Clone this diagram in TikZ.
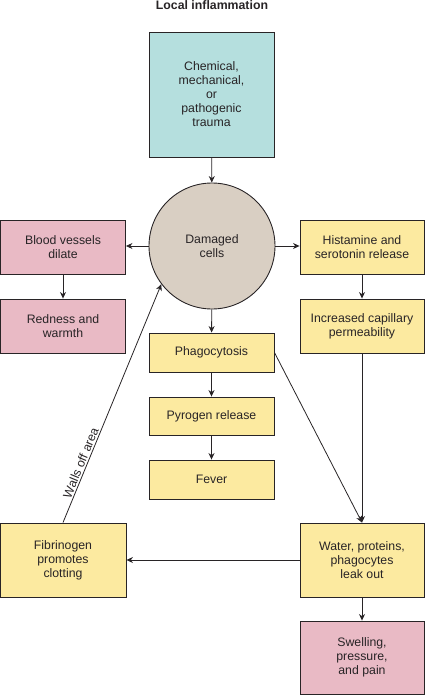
\documentclass[tikz,border=0pt]{standalone}
\usepackage{fontspec}
\setmainfont{Liberation Sans}
\usetikzlibrary{arrows.meta}

\definecolor{azul}{RGB}{181,223,222}
\definecolor{celula}{RGB}{217,207,195}
\definecolor{rosado}{RGB}{233,186,197}
\definecolor{amarillo}{RGB}{252,234,160}
\definecolor{tinta}{RGB}{40,36,38}

\begin{document}
\begin{tikzpicture}[x=1pt, y=-1pt,
    caja/.style    = {rectangle, draw=tinta, line width=0.9pt,
                      minimum width=125pt, align=center, inner sep=2pt,
                      font=\fontsize{12.3}{14}\selectfont, text=tinta},
    cajaazul/.style= {caja, fill=azul},
    cajarosa/.style= {caja, fill=rosado},
    cajaama/.style = {caja, fill=amarillo},
    celda/.style   = {circle, draw=tinta, line width=0.9pt, fill=celula,
                      minimum size=126pt, align=center, inner sep=0pt,
                      font=\fontsize{12.3}{14}\selectfont, text=tinta},
    titulo/.style  = {font=\fontsize{12.3}{14}\selectfont\bfseries,
                      text=tinta, inner sep=0pt},
    nombre/.style  = {font=\fontsize{12.3}{14}\selectfont, text=tinta,
                      inner sep=1.5pt},
    flecha/.style  = {-{Stealth[length=6.5pt,width=6pt]}, draw=tinta,
                      line width=0.8pt},
  ]
  \useasboundingbox (0,0) rectangle (425,695);

  %-------------------------------------------------- titulo y origen
  \node[titulo] (T) at (212,5) {Local inflammation};
  \node[cajaazul, minimum height=125pt] (trauma) at (211.5,94.5)
    {Chemical,\\mechanical,\\or\\pathogenic\\trauma};
  \node[celda] (cells) at (212,246) {Damaged\\cells};

  %-------------------------------------------------- rama izquierda
  \node[cajarosa, minimum height=54pt] (blood) at (63,247)
    {Blood vessels\\dilate};
  \node[cajarosa, minimum height=54pt] (red) at (63,326)
    {Redness and\\warmth};

  %-------------------------------------------------- rama central
  \node[cajaama, minimum height=39pt] (phago) at (211.5,352.5) {Phagocytosis};
  \node[cajaama, minimum height=38pt] (pyro) at (211.5,416) {Pyrogen release};
  \node[cajaama, minimum height=39pt] (fever) at (211.5,479.5) {Fever};

  %-------------------------------------------------- rama derecha
  \node[cajaama, minimum width=124pt, minimum height=54pt] (hist) at (362,247)
    {Histamine and\\serotonin release};
  \node[cajaama, minimum width=124pt, minimum height=54pt] (perm) at (362,326)
    {Increased capillary\\permeability};
  \node[cajaama, minimum width=124pt, minimum height=74pt] (water) at (362,560)
    {Water, proteins,\\phagocytes\\leak out};
  \node[cajarosa, minimum width=124pt, minimum height=73pt] (swell) at (362,657.5)
    {Swelling,\\pressure,\\and pain};
  \node[cajaama, minimum width=126pt, minimum height=74pt] (fib) at (63,560)
    {Fibrinogen\\promotes\\clotting};

  %-------------------------------------------------- flujo
  \draw[flecha] (trauma) -- (cells);
  \draw[flecha] (cells.west) -- (cells.west -| blood.east);
  \draw[flecha] (cells.east) -- (cells.east -| hist.west);
  \draw[flecha] (blood) -- (red);
  \draw[flecha] (hist) -- (perm);
  \draw[flecha] (cells) -- (phago);
  \draw[flecha] (phago) -- (pyro);
  \draw[flecha] (pyro) -- (fever);
  \draw[flecha] (perm) -- (water);
  \draw[flecha] (phago.east) -- (water.north);
  \draw[flecha] (water) -- (swell);
  \draw[flecha] (water) -- (fib);

  %-------------------------------------------------- lazo de retorno
  \draw[flecha] (fib.north) -- (cells.217)
    node[nombre, pos=0.24, sloped, above] {Walls off area};
\end{tikzpicture}
\end{document}
